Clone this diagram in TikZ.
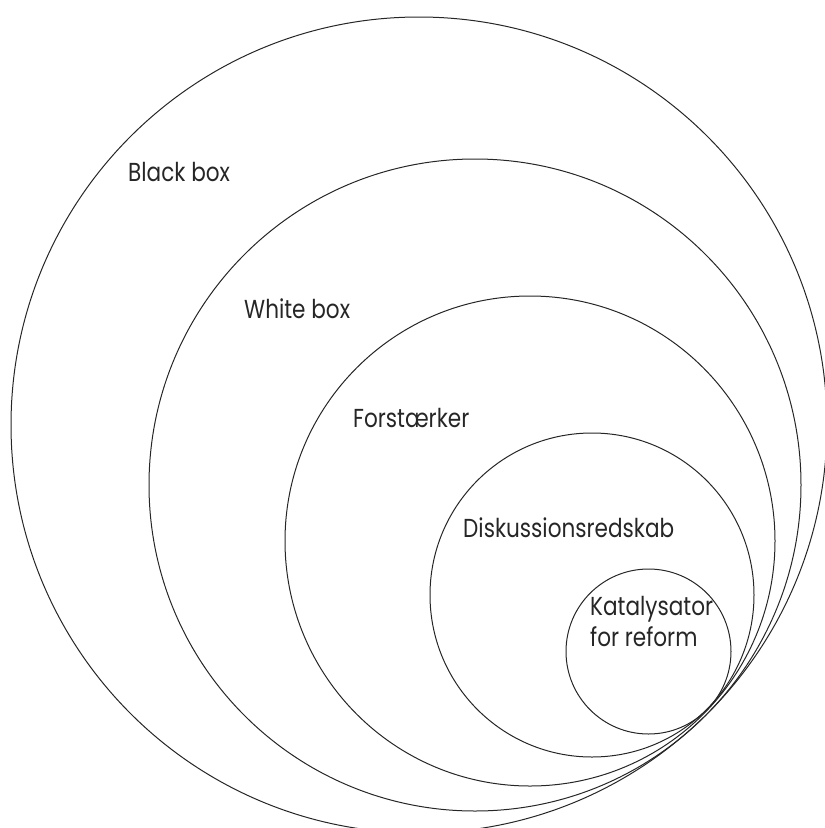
\documentclass[tikz,border=0pt]{standalone}
\usepackage{fontspec}
\setmainfont[FakeStretch=0.83]{Poppins}
\begin{document}
\begin{tikzpicture}[x=1pt,y=-1pt,
  ring/.style={draw=black!85,line width=1pt},
  lbl/.style={anchor=base west,inner sep=0pt,font=\fontsize{26}{31}\selectfont,text=black!85}]
\useasboundingbox (0,0) rectangle (825,828);
\begin{scope}
\clip (0,0) rectangle (825,828);
\draw[ring] (419,425) circle[radius=408pt];
\draw[ring] (475,485) circle[radius=326pt];
\draw[ring] (530,541) circle[radius=245pt];
\draw[ring] (592,595) circle[radius=162pt];
\draw[ring] (648.5,651.5) circle[radius=82.5pt];
\end{scope}
\node[lbl] (black) at (128,181) {Black box};
\node[lbl] (white) at (244,318) {White box};
\node[lbl] (forst) at (353,427) {Forstærker};
\node[lbl] (disk) at (463,537) {Diskussionsredskab};
\node[lbl,align=left] (kat) at (590,646) {Katalysator\\for reform};
\end{tikzpicture}
\end{document}
